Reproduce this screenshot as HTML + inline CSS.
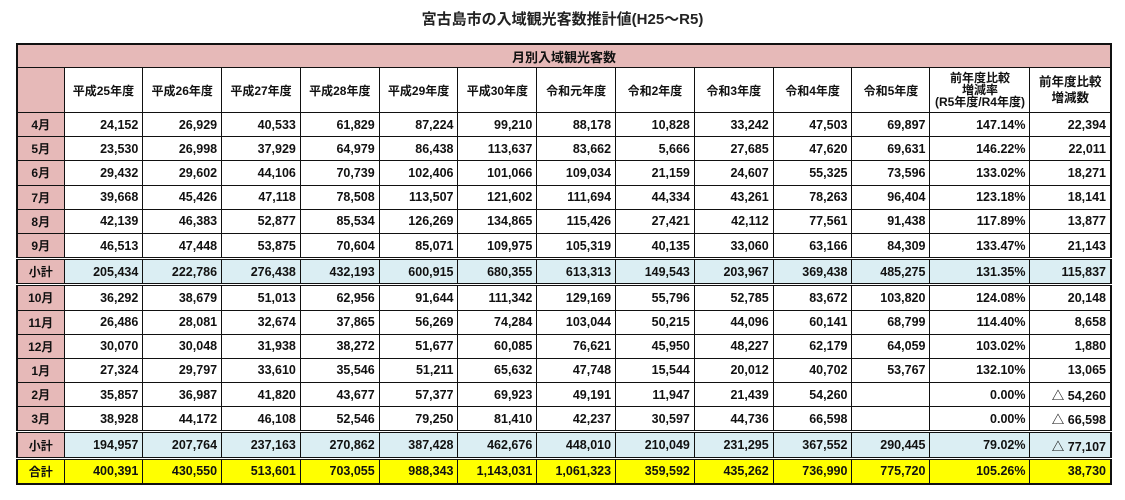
<!DOCTYPE html>
<html><head><meta charset="utf-8"><style>
body{margin:0;width:1125px;height:500px;background:#fff;font-family:"Liberation Sans","Noto Sans CJK JP",sans-serif;position:relative;overflow:hidden}
.title{position:absolute;top:8px;left:0;width:1125px;text-align:center;font-weight:bold;font-size:15px;color:#222}
table{position:absolute;left:16px;top:43px;border-collapse:collapse;table-layout:fixed;width:1094px;font-weight:bold;font-size:12.5px;color:#111}
td{border:1.5px solid #111;padding:0 4px;text-align:right;height:23.2px;white-space:nowrap;overflow:hidden}
tr.h td{height:44px;text-align:center;font-size:12px}
td.m{background:#e6b9b8;text-align:center;font-size:12px}
tr.top td{background:#e6b9b8;height:22px;text-align:center;font-size:13px;border-width:2.5px 2.5px 1.5px 2.5px}
tr.s td{background:#dbeef3;border-top:3px double #111;border-bottom:3px double #111}
tr.t td{background:#ffff00}
td.small{font-size:9.5px;line-height:12px}
table{border:2.5px solid #111}
</style></head><body>
<div class="title">宮古島市の入域観光客数推計値(H25～R5)</div>
<table>
<colgroup><col style="width:47px"><col span="10" style="width:78.8px"><col style="width:78px"><col style="width:100px"><col style="width:81px"></colgroup>
<tr class="top"><td colspan="14">月別入域観光客数</td></tr>
<tr class="h"><td class="m"></td><td>平成25年度</td><td>平成26年度</td><td>平成27年度</td><td>平成28年度</td><td>平成29年度</td><td>平成30年度</td><td>令和元年度</td><td>令和2年度</td><td>令和3年度</td><td>令和4年度</td><td>令和5年度</td><td class="small">前年度比較<br>増減率<br>(R5年度/R4年度)</td><td style="font-size:12.5px;line-height:16px">前年度比較<br>増減数</td></tr>
<tr><td class="m">4月</td><td>24,152</td><td>26,929</td><td>40,533</td><td>61,829</td><td>87,224</td><td>99,210</td><td>88,178</td><td>10,828</td><td>33,242</td><td>47,503</td><td>69,897</td><td>147.14%</td><td>22,394</td></tr>
<tr><td class="m">5月</td><td>23,530</td><td>26,998</td><td>37,929</td><td>64,979</td><td>86,438</td><td>113,637</td><td>83,662</td><td>5,666</td><td>27,685</td><td>47,620</td><td>69,631</td><td>146.22%</td><td>22,011</td></tr>
<tr><td class="m">6月</td><td>29,432</td><td>29,602</td><td>44,106</td><td>70,739</td><td>102,406</td><td>101,066</td><td>109,034</td><td>21,159</td><td>24,607</td><td>55,325</td><td>73,596</td><td>133.02%</td><td>18,271</td></tr>
<tr><td class="m">7月</td><td>39,668</td><td>45,426</td><td>47,118</td><td>78,508</td><td>113,507</td><td>121,602</td><td>111,694</td><td>44,334</td><td>43,261</td><td>78,263</td><td>96,404</td><td>123.18%</td><td>18,141</td></tr>
<tr><td class="m">8月</td><td>42,139</td><td>46,383</td><td>52,877</td><td>85,534</td><td>126,269</td><td>134,865</td><td>115,426</td><td>27,421</td><td>42,112</td><td>77,561</td><td>91,438</td><td>117.89%</td><td>13,877</td></tr>
<tr><td class="m">9月</td><td>46,513</td><td>47,448</td><td>53,875</td><td>70,604</td><td>85,071</td><td>109,975</td><td>105,319</td><td>40,135</td><td>33,060</td><td>63,166</td><td>84,309</td><td>133.47%</td><td>21,143</td></tr>
<tr class="s"><td class="m" style="background:#e6b9b8">小計</td><td>205,434</td><td>222,786</td><td>276,438</td><td>432,193</td><td>600,915</td><td>680,355</td><td>613,313</td><td>149,543</td><td>203,967</td><td>369,438</td><td>485,275</td><td>131.35%</td><td>115,837</td></tr>
<tr><td class="m">10月</td><td>36,292</td><td>38,679</td><td>51,013</td><td>62,956</td><td>91,644</td><td>111,342</td><td>129,169</td><td>55,796</td><td>52,785</td><td>83,672</td><td>103,820</td><td>124.08%</td><td>20,148</td></tr>
<tr><td class="m">11月</td><td>26,486</td><td>28,081</td><td>32,674</td><td>37,865</td><td>56,269</td><td>74,284</td><td>103,044</td><td>50,215</td><td>44,096</td><td>60,141</td><td>68,799</td><td>114.40%</td><td>8,658</td></tr>
<tr><td class="m">12月</td><td>30,070</td><td>30,048</td><td>31,938</td><td>38,272</td><td>51,677</td><td>60,085</td><td>76,621</td><td>45,950</td><td>48,227</td><td>62,179</td><td>64,059</td><td>103.02%</td><td>1,880</td></tr>
<tr><td class="m">1月</td><td>27,324</td><td>29,797</td><td>33,610</td><td>35,546</td><td>51,211</td><td>65,632</td><td>47,748</td><td>15,544</td><td>20,012</td><td>40,702</td><td>53,767</td><td>132.10%</td><td>13,065</td></tr>
<tr><td class="m">2月</td><td>35,857</td><td>36,987</td><td>41,820</td><td>43,677</td><td>57,377</td><td>69,923</td><td>49,191</td><td>11,947</td><td>21,439</td><td>54,260</td><td></td><td>0.00%</td><td>△ 54,260</td></tr>
<tr><td class="m">3月</td><td>38,928</td><td>44,172</td><td>46,108</td><td>52,546</td><td>79,250</td><td>81,410</td><td>42,237</td><td>30,597</td><td>44,736</td><td>66,598</td><td></td><td>0.00%</td><td>△ 66,598</td></tr>
<tr class="s"><td class="m" style="background:#e6b9b8">小計</td><td>194,957</td><td>207,764</td><td>237,163</td><td>270,862</td><td>387,428</td><td>462,676</td><td>448,010</td><td>210,049</td><td>231,295</td><td>367,552</td><td>290,445</td><td>79.02%</td><td>△ 77,107</td></tr>
<tr class="t"><td class="m" style="background:#ffff00">合計</td><td>400,391</td><td>430,550</td><td>513,601</td><td>703,055</td><td>988,343</td><td>1,143,031</td><td>1,061,323</td><td>359,592</td><td>435,262</td><td>736,990</td><td>775,720</td><td>105.26%</td><td>38,730</td></tr>
</table>
</body></html>
